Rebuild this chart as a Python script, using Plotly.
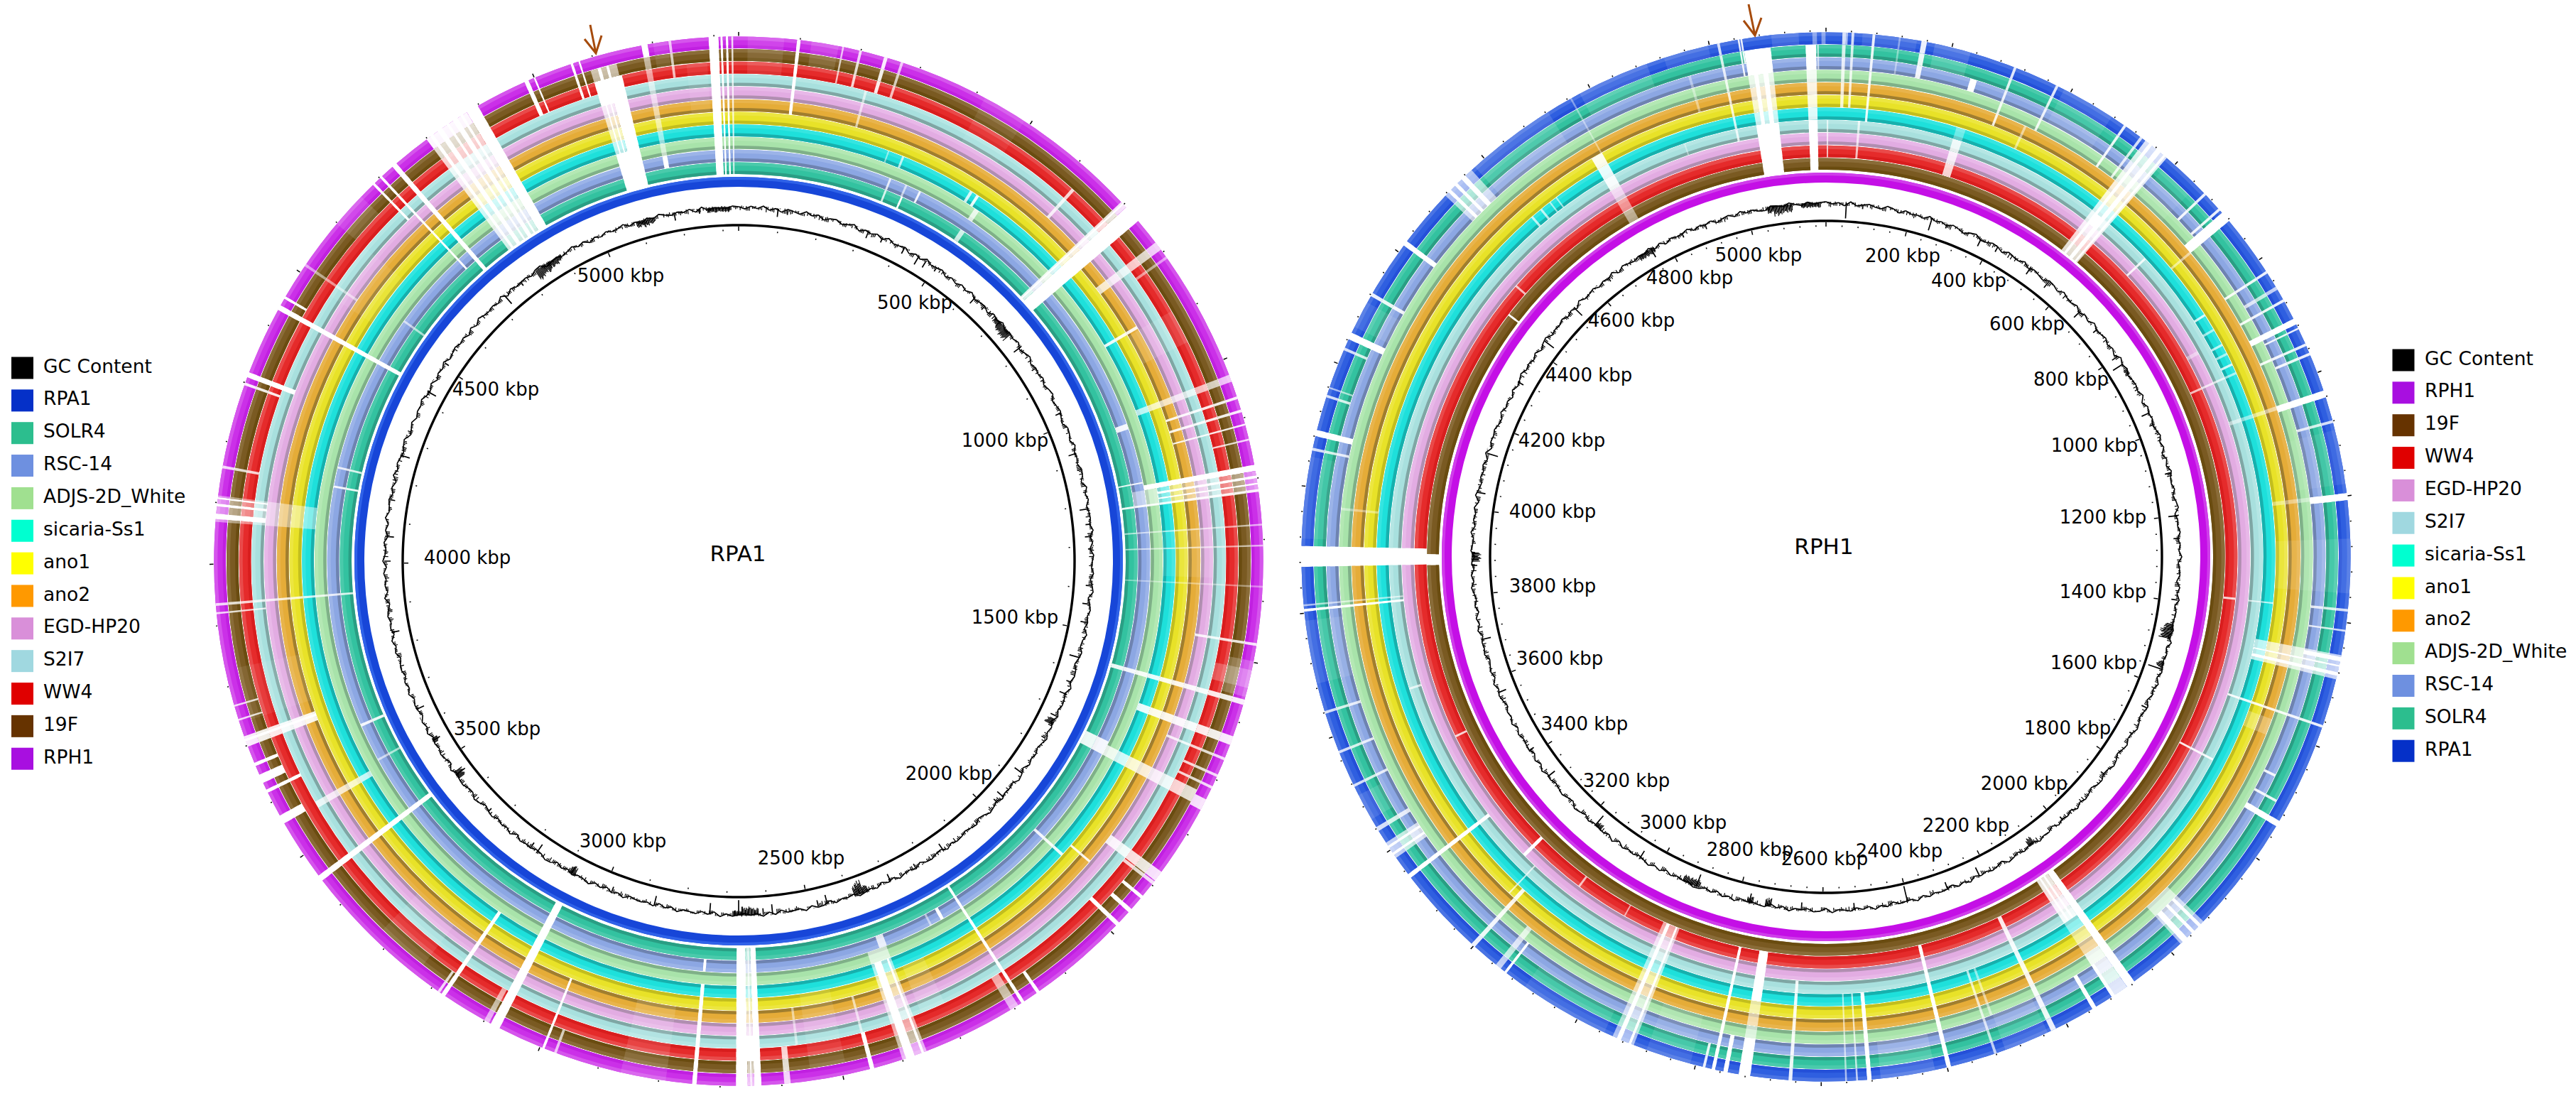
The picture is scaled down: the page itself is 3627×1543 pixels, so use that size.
import numpy as np
import plotly.graph_objects as go

W, H = 3627, 1543

# ---------------- genomes -----------------
LEFT_LENGTH_KBP = 5340
RIGHT_LENGTH_KBP = 5185
LEFT_LABEL_KBP = [500, 1000, 1500, 2000, 2500, 3000, 3500, 4000, 4500, 5000]
RIGHT_LABEL_KBP = [200, 400, 600, 800, 1000, 1200, 1400, 1600, 1800, 2000, 2200, 2400, 2600,
                   2800, 3000, 3200, 3400, 3600, 3800, 4000, 4200, 4400, 4600, 4800, 5000]
LEFT_LEGEND = ["GC Content", "RPA1", "SOLR4", "RSC-14", "ADJS-2D_White", "sicaria-Ss1", "ano1", "ano2",
               "EGD-HP20", "S2I7", "WW4", "19F", "RPH1"]
RIGHT_LEGEND = ["GC Content", "RPH1", "19F", "WW4", "EGD-HP20", "S2I7", "sicaria-Ss1", "ano1", "ano2",
                "ADJS-2D_White", "RSC-14", "SOLR4", "RPA1"]
LEFT_RINGS = ["SOLR4", "RSC-14", "ADJS-2D_White", "sicaria-Ss1", "ano1", "ano2", "EGD-HP20", "S2I7", "WW4", "19F", "RPH1"]
RIGHT_RINGS = ["19F", "WW4", "EGD-HP20", "S2I7", "sicaria-Ss1", "ano1", "ano2", "ADJS-2D_White", "RSC-14", "SOLR4", "RPA1"]

# gaps in BLAST rings: start deg, end deg, first ring, last ring, whiteness (1 = no hit at all)
LEFT_GAPS = [
    (356.7, 357.8, 0, 10, 1), (358.0, 358.25, 0, 10, 1), (358.6, 358.85, 0, 10, 1), (359.2, 359.4, 0, 10, .8),
    (343.2, 346.5, 0, 2, 1), (343.2, 346.5, 7, 8, 1), (344.8, 346.5, 3, 6, 1), (343.2, 344.8, 3, 6, .7),
    (343.7, 343.9, 3, 6, 1), (344.3, 344.5, 3, 6, 1), (343.2, 346.2, 9, 9, .6), (344, 344.4, 9, 9, 1), (345, 345.3, 9, 9, 1),
    (341.3, 341.6, 8, 10, 1), (342.2, 342.4, 8, 10, 1),
    (349.3, 350, 10, 10, 1), (349.3, 350, 1, 1, 1), (349.3, 350, 2, 9, .55), (352.3, 352.6, 8, 10, .7),
    (328.8, 330.2, 0, 10, 1), (323.5, 328.8, 0, 9, .78), (323.5, 328.8, 10, 10, .96),
    (324, 324.4, 0, 10, 1), (325, 325.6, 0, 10, 1), (326.2, 326.5, 0, 10, 1), (327, 327.6, 0, 10, 1), (328, 328.3, 0, 10, 1),
    (335.9, 336.4, 8, 10, 1), (337, 337.2, 8, 10, 1),
    (318.7, 319.3, 0, 10, 1), (316.9, 317.2, 1, 10, 1), (315.8, 316.1, 7, 10, 1), (304.2, 304.5, 6, 10, .5),
    (298.6, 299.2, 0, 10, 1), (300, 300.3, 9, 10, 1), (290.5, 291.1, 7, 10, 1), (289.6, 289.9, 8, 10, .9),
    (280.2, 280.5, 8, 10, .8), (283, 283.3, 0, 1, .8), (280.3, 280.6, 0, 1, .9), (305.5, 305.8, 0, 1, .6),
    (274.3, 277.2, 3, 10, .45), (274.6, 275.2, 7, 10, 1), (276, 276.3, 7, 10, 1), (276.8, 277, 7, 10, 1),
    (265.1, 265.4, 0, 10, .8), (264.2, 264.4, 7, 10, .8),
    (253.9, 254.1, 9, 10, .8), (252.3, 252.5, 9, 10, .8),
    (249.3, 250.5, 5, 10, .9), (249.9, 250.2, 5, 10, 1), (247, 247.4, 9, 10, 1), (245, 246, 9, 10, 1), (243.8, 244.2, 8, 10, 1),
    (240, 241, 9, 10, 1), (239.6, 240.4, 3, 7, .75), (246.3, 246.7, 0, 1, .9), (241, 241.3, 0, 1, .6),
    (232.5, 233.2, 0, 10, 1), (214.0, 214.5, 3, 10, 1), (214.7, 215, 9, 10, .8),
    (207.1, 208.2, 0, 10, 1), (208.4, 209, 8, 10, .6), (201.7, 202, 5, 10, 1), (200.3, 200.6, 9, 10, .7),
    (184.6, 185.1, 3, 10, 1), (184.6, 185, 1, 1, 1),
    (179, 180.3, 0, 10, 1), (177.5, 178.3, 0, 10, 1), (178.3, 179, 0, 10, .7), (178.55, 178.7, 0, 10, 1), (177.5, 180.3, 7, 8, 1),
    (174.3, 175, 8, 10, .8), (173, 173.3, 5, 7, .5), (165, 165.5, 8, 10, 1), (165.2, 165.5, 5, 7, .6),
    (159, 161.8, 2, 10, .6), (160.4, 161.4, 3, 10, 1), (159.3, 159.6, 3, 10, 1), (158.9, 160, 1, 1, .8),
    (150.1, 150.6, 1, 1, 1), (152, 152.3, 1, 1, .5), (147, 147.4, 0, 10, 1), (145, 145.4, 9, 10, 1), (147.8, 148.8, 8, 10, .6),
    (132, 132.4, 1, 3, .9), (130.4, 130.7, 4, 5, .9), (131.5, 132, 9, 10, 1), (129.6, 130, 9, 10, 1), (133.5, 134, 8, 10, 1),
    (126.3, 127.5, 6, 10, .85), (127.6, 128, 8, 10, .8),
    (116, 118, 0, 1, .9), (116.5, 118, 2, 9, .8), (117, 118.3, 10, 10, .85),
    (109.5, 110.5, 3, 10, .9), (112, 112.3, 6, 10, .8), (114, 114.3, 8, 10, .8), (115.4, 115.7, 8, 10, .8),
    (105.3, 105.9, 0, 10, .9), (99, 99.3, 6, 10, .85), (102, 104, 8, 10, .25),
    (92.7, 92.9, 0, 10, .4), (88.2, 88.4, 0, 10, .6), (85.9, 86.1, 0, 10, .6),
    (79.4, 80.1, 2, 10, 1), (80.1, 82.3, 1, 10, .45), (80.6, 80.9, 3, 10, 1), (81.4, 81.6, 3, 10, 1), (82.1, 82.4, 0, 10, .9), (78.9, 79.1, 0, 1, .9),
    (70.5, 71.3, 1, 1, .9), (69.2, 70, 3, 10, .7), (71.7, 72, 5, 10, .9), (73.2, 73.5, 5, 10, .9), (74.8, 75, 5, 10, .9), (76.5, 76.7, 8, 10, .8),
    (59.4, 59.8, 3, 5, .9), (52.6, 53.6, 5, 10, .75), (54.5, 54.8, 8, 10, .5),
    (47.6, 49.6, 0, 10, 1), (46.8, 47.6, 0, 10, .85), (47.0, 47.2, 0, 10, 1),
    (41.8, 42.2, 6, 8, .8), (33.8, 34.5, 0, 0, .75), (33.8, 34.5, 2, 2, .75), (33, 33.4, 3, 3, .9), (32, 32.4, 3, 3, .8),
    (24.0, 24.3, 0, 0, 1), (26, 26.3, 1, 1, .9), (23.9, 24.2, 1, 1, .6),
    (6.4, 6.8, 5, 10, 1), (11.4, 11.6, 8, 10, .7), (13.3, 13.6, 8, 10, .8), (16.1, 16.5, 8, 10, .9), (18, 18.3, 8, 10, .7),
    (15, 15.3, 5, 7, .6), (20, 20.2, 3, 3, .5), (22, 22.3, 3, 3, .7), (21.5, 21.8, 0, 1, .8),
    # lighter low-identity blocks
    (1, 5, 8, 10, .1), (8, 11, 9, 10, .12), (28, 33, 7, 10, .08), (60, 64, 5, 8, .12), (86, 92, 3, 6, .1), (101, 105, 9, 10, .22),
    (155, 158, 4, 7, .14), (168, 172, 4, 9, .1), (188, 193, 5, 10, .12), (218, 224, 6, 9, .1), (252, 258, 5, 9, .08), (303, 310, 4, 7, .08), (310, 314, 9, 10, .12),
    (350.6, 352.2, 9, 10, .1), (354, 356.4, 5, 8, .08),
]
RIGHT_GAPS = [
    (350.8, 353.8, 0, 3, 1), (350.8, 353.8, 8, 9, 1), (350.8, 353.8, 4, 7, .75), (351.5, 352, 4, 7, 1), (352.6, 353.2, 4, 7, 1),
    (350.3, 350.5, 8, 10, .9), (350.6, 350.8, 9, 10, .9),
    (357.7, 358.9, 0, 3, 1), (357.7, 358.9, 8, 9, 1), (357.7, 358.9, 4, 7, .85), (359.0, 359.2, 8, 9, .6),
    (358.5, 359, 10, 10, .4), (359.5, 359.95, 10, 10, .4),
    (0.1, 0.3, 1, 3, .7), (1.8, 2.2, 5, 10, .8), (2.8, 3.1, 5, 10, .8), (2.2, 2.4, 10, 10, .6), (4.2, 4.5, 1, 3, .7), (5.1, 5.4, 4, 10, .9),
    (10.5, 11.1, 8, 10, .9), (8, 8.2, 8, 10, .4), (16.9, 18.1, 1, 3, .8), (16.9, 18.1, 4, 4, .35), (16.8, 17.6, 8, 8, 1),
    (21, 21.3, 6, 10, .85), (26, 26.3, 7, 10, .85), (24.7, 25, 5, 6, .5), (34.6, 34.9, 7, 10, .9), (36.8, 37.1, 7, 10, .8),
    (37.5, 40.5, 0, 10, .8), (38, 38.4, 0, 10, 1), (39, 39.6, 0, 10, 1), (40, 40.3, 0, 10, 1), (38.2, 39, 3, 3, 1),
    (46.1, 46.4, 8, 10, .9), (46.8, 47.1, 2, 3, .85), (48.4, 48.7, 8, 10, .9), (49, 50.2, 7, 10, 1),
    (57, 57.3, 7, 10, .9), (59, 59.4, 8, 10, .7), (60.6, 60.9, 7, 10, .9), (63, 63.7, 7, 10, 1), (64.1, 64.3, 8, 10, .9), (66, 66.3, 7, 10, .9), (67.1, 67.4, 8, 10, .9),
    (57.3, 57.6, 4, 4, .8), (59.5, 59.8, 4, 4, .6), (61.7, 62, 4, 4, .7), (63, 63.3, 4, 4, .6), (64.5, 64.8, 4, 4, .8), (65.7, 66, 4, 4, .6),
    (61, 61.5, 2, 2, .4), (65.7, 66, 1, 3, .7), (50, 50.3, 5, 6, .5),
    (71.5, 72.3, 7, 10, 1), (71.5, 72, 3, 6, .5), (74.9, 75.2, 8, 10, .8), (83, 83.8, 8, 10, 1), (83, 83.5, 5, 7, .4),
    (95.7, 96, 1, 1, .8), (95.8, 96, 3, 4, .7), (95.7, 96, 8, 10, .8), (98, 98.2, 8, 10, .8),
    (100.8, 103.5, 4, 10, .7), (101, 101.5, 8, 10, 1), (102.7, 103.1, 4, 10, 1), (101.9, 102.1, 4, 10, 1),
    (108.7, 109, 3, 10, .9), (117.5, 117.8, 1, 3, .9), (115.8, 116.1, 8, 8, .9), (118.3, 118.6, 8, 9, .9), (120.2, 120.9, 8, 10, 1), (110, 112, 5, 6, .25),
    (134, 137.5, 7, 10, .6), (134.4, 134.8, 8, 10, 1), (135.4, 135.8, 8, 10, 1), (136.5, 137.2, 8, 10, 1),
    (144, 145, 0, 10, 1), (145, 147, 0, 3, .85), (145, 147, 4, 6, .5), (145, 147, 7, 10, .85), (145.5, 145.8, 0, 3, 1), (146.2, 146.5, 0, 3, 1), (146.6, 147, 8, 10, 1),
    (149, 149.5, 8, 10, 1), (154, 154.6, 1, 10, .9), (161, 161.3, 4, 10, .7), (160, 160.3, 4, 7, .5), (166.2, 166.7, 1, 10, 1),
    (175, 175.5, 4, 10, 1), (176.5, 176.7, 4, 10, .7), (177.7, 177.9, 4, 10, .6), (183.7, 184.1, 3, 10, .9),
    (188.3, 189.6, 1, 4, 1), (188.3, 189.6, 8, 10, 1), (188.3, 189.6, 5, 7, .6),
    (192.2, 192.6, 1, 10, 1), (190.8, 191.3, 8, 10, 1), (193.3, 193.6, 9, 10, .9),
    (201.5, 204, 1, 10, .6), (201.8, 202.1, 1, 10, 1), (203, 203.5, 1, 10, 1),
    (209.2, 209.4, 1, 1, .6), (216.7, 217, 1, 1, .7), (217.5, 217.8, 8, 10, 1), (218.3, 219, 7, 10, .7), (225.1, 225.6, 1, 2, 1), (222, 222.5, 5, 10, .9), (223.2, 223.4, 3, 5, .7),
    (232.3, 232.8, 3, 10, 1), (235, 237, 8, 10, .7), (235.4, 235.7, 8, 10, 1), (236.3, 236.6, 8, 10, 1),
    (238.5, 239, 8, 10, .8), (244, 244.3, 8, 10, .8), (244, 244.3, 1, 1, .8), (248, 248.3, 8, 10, .8), (252.6, 252.9, 8, 10, .8), (252.3, 252.6, 3, 3, .7),
    (264, 264.3, 3, 10, 1), (264.6, 264.8, 3, 10, .6), (268.9, 271.2, 1, 10, 1), (268.8, 270.4, 0, 0, 1),
    (275.5, 275.8, 5, 7, .4), (281.7, 282, 8, 10, .8), (283.3, 284, 8, 10, 1), (287.7, 288, 9, 10, .8), (288.7, 288.9, 9, 10, .6),
    (293.2, 293.5, 9, 10, .8), (294.5, 295.3, 8, 10, 1), (299.8, 300.2, 8, 10, .9), (306.4, 307, 8, 10, 1), (307.2, 307.5, 0, 0, 1), (311, 311.3, 1, 1, .7),
    (313.5, 317.5, 8, 10, .6), (314, 314.4, 8, 10, 1), (315, 315.4, 8, 10, 1), (316, 316.6, 8, 10, 1),
    (319, 319.3, 4, 4, .7), (320.5, 320.8, 4, 4, .7), (322, 322.2, 4, 4, .6), (323, 323.2, 4, 4, .6),
    (329.5, 331, 0, 2, .5), (329.5, 331, 3, 5, .9), (330.8, 331, 6, 10, .4), (348, 348.3, 3, 10, .8), (344, 344.3, 6, 8, .4), (341, 341.2, 3, 3, .4),
    # lighter low-identity blocks
    (354, 357, 10, 10, .12), (4, 10, 10, 10, .1), (12, 16, 9, 10, .14), (27, 33, 8, 10, .1), (41, 45, 7, 9, .08), (76, 82, 7, 10, .08), (88, 94, 5, 10, .1),
    (155, 160, 8, 10, .12), (168, 174, 8, 10, .14), (195, 200, 7, 10, .1), (205, 215, 9, 10, .1), (240, 243, 9, 10, .12), (256, 263, 8, 10, .1), (272, 281, 9, 10, .08),
    (296, 299, 8, 10, .1), (318, 328, 8, 10, .14), (332, 340, 9, 10, .12), (342, 347, 10, 10, .1),
]

# GC content track, one value per degree: offset from the mean line
LEFT_GC = [
 1,-2,2,-1,3,-2,1,-3,2,0,-2,3,-1,2,-3,1,2,-2,0,3,-3,1,-1,2,-2,3,-1,0,2,-3,
 1,-2,3,-1,0,2,-3,1,-2,2,-1,3,-2,0,1,-3,2,-1,3,-2,1,-1,2,-3,0,3,-2,1,-1,2,
 -2,1,3,-2,0,2,-1,-3,2,1,-2,3,-1,0,-2,2,1,-3,3,-1,2,-2,0,1,-1,3,-2,1,-3,2,
 0,-1,2,-2,1,3,-3,0,2,-1,1,-2,3,-1,-2,2,0,-3,1,2,-1,3,-2,0,1,-2,2,-3,1,-1,
 3,0,-2,1,-1,2,-3,1,3,-2,0,-1,2,-2,1,3,-1,-3,2,0,-2,1,2,-1,3,-2,-1,2,1,-3,
 2,-1,0,3,-2,1,-3,2,-1,1,3,-2,0,-1,2,-3,1,2,-2,3,-1,0,1,-3,2,-2,3,-1,1,-2,
 0,2,-1,3,-3,1,-2,2,0,-1,3,-2,1,-3,2,-1,1,0,-2,3,-1,2,-3,1,-2,3,0,-1,2,-2,
 1,-3,2,3,-1,-2,1,0,2,-3,3,-1,1,-2,2,0,-3,1,3,-2,-1,2,1,-2,3,-3,0,2,-1,1,
 -2,3,-1,2,-3,0,1,-2,3,-1,2,-2,1,0,-3,2,-1,3,-2,1,-1,2,0,-3,3,-2,1,-1,2,-2,
 3,0,-1,2,-3,1,-2,3,-1,0,2,-2,1,-3,3,-1,2,0,-2,1,3,-3,-1,2,-2,1,0,3,-1,-2,
 2,-3,1,-1,3,-2,0,2,-1,1,-3,2,-2,3,0,-1,1,-2,3,-3,2,-1,0,1,-2,2,3,-3,-1,1,
 -2,0,3,-1,2,-3,1,-2,2,-1,0,3,-2,1,-3,2,-1,3,0,-2,1,-1,2,-3,3,-2,1,0,-1,2]
RIGHT_GC = [
 2,-1,1,-3,3,-2,0,2,-1,-2,3,1,-3,2,-1,0,-2,3,-1,1,-2,2,0,-3,1,3,-2,-1,2,1,
 -3,2,0,-1,3,-2,1,-1,-3,2,1,-2,3,0,-1,2,-3,1,-2,3,-1,0,2,-2,1,-3,3,-1,2,-2,
 0,1,-1,3,-3,2,-1,1,-2,0,3,-1,2,-3,1,-2,3,0,-1,2,-2,1,3,-3,0,-1,2,-2,1,-1,
 3,-2,0,1,-3,2,-1,3,-2,1,0,-1,2,-3,3,-2,1,-1,0,2,-2,3,-1,1,-3,2,0,-2,1,3,
 -1,-2,2,0,-3,1,3,-1,-2,2,1,-3,0,2,-1,3,-2,1,-1,2,-3,1,0,3,-2,-1,2,-2,1,3,
 -3,0,2,-1,1,-2,3,-1,2,-3,0,1,-1,2,-2,3,-1,0,1,-3,2,-1,3,-2,1,-2,2,0,-1,3,
 -3,1,2,-2,0,-1,3,-2,1,-3,2,1,-1,0,-2,3,-1,2,-3,1,-2,2,3,-1,0,-2,1,-3,2,-1,
 3,0,-2,1,-1,2,-3,3,-2,1,0,-1,2,-2,1,3,-3,-1,2,0,-2,1,-1,3,-2,2,-3,1,0,-1,
 2,-2,3,-1,1,-3,0,2,-1,3,-2,1,-1,-3,2,0,1,-2,3,-1,2,-3,1,-2,0,3,-1,2,-2,1,
 -3,2,0,-1,3,-2,1,-1,2,-3,3,0,-2,1,-1,2,-2,3,-3,1,0,2,-1,-2,3,-1,1,-3,2,-2,
 0,3,-1,1,-2,2,-3,1,3,-2,0,-1,2,-2,1,-3,3,-1,0,2,-2,1,-1,3,-3,2,0,-2,1,-1,
 3,-2,2,-3,1,-1,0,3,-2,1,-1,2,-3,0,2,-2,3,-1,1,-2,-3,2,1,-1,3,0,-2,2,-1,1]
# narrow GC spikes: degree, offset (negative = towards the centre)
LEFT_GC_SPIKES = [(6.4,-9),(8,-5),(21.5,-8),(24,-6),(27.9,-7),(30.6,-11),(32,-9),(34,-5),(41.9,-9),(44,-5),(52.8,-10),(57,-5),(65.3,-6),(72.3,-9),(75,-4),(81.5,-11),
    (84,-6),(86,-8),(88,-5),(94,-7),(97,-9),(100,-8),(105.8,-12),(110,-6),(112.1,-9),(116,-8),(120,-5),(126.8,-11),(131.7,-9),(133,-6),(144.7,-9),(150,-5),(154.6,-9),(160,-6),(165.5,-11),
    (167,-7),(174.5,-11),(176,-7),(180,-18),(184.7,-13),(193.8,-11),(201,-6),(208.1,-8),(214.7,-11),(216,-7),(225,-5),(232.9,-13),(239.6,-9),(245.3,-9),(258.4,-9),(262,-5),(270,-7),(274,-10),
    (280,-6),(287.4,-11),(298.6,-11),(304,-5),(318.6,-13),(322,-5),(349.5,-9),(353.6,-5),(355,-5)]
RIGHT_GC_SPIKES = [(3.3,-18),(6,-5),(17.4,-14),(20,-5),(26,-10),(29,-6),(35.3,-9),(39,-9),(46,-11),(50,-6),(55.5,-8),(57,-14),(66,-10),(68,-6),(76.3,-6),(83.3,-11),(87,-7),
    (97,-7),(108.5,-17),(115.2,-6),(120,-4),(128,-6),(138,-5),(154.3,-11),(159.9,-9),(166.7,-19),(175.4,-8),(184,-9),(192.5,-11),(201.5,-15),(211.7,-10),(220.7,-15),
    (231.7,-10),(236.9,-6),(247.5,-9),(256.5,-11),(268.6,-6),(280.5,-9),(287,-13),(299.6,-7),(307.5,-13),(314.7,-13),(322,-5),(330.4,-11),(336,-5),(340,-6)]
# dense GC blocks: start deg, end deg, offset
LEFT_GC_BLOCKS = [(355,358.6,-6),(343.2,344.4,-8),(344.4,345.2,-10),(345.2,346.2,-7),(325,326.2,-15),(326.2,327.6,-12),(327.6,329,-9),(329,329.8,-6),
    (46.6,47.6,-7),(47.6,48.8,-11),(48.8,50.2,-13),(232.2,233.4,-12),(207.6,208.6,-11),(239.2,240,-8),
    (158.6,159.4,-9),(159.4,160.4,-18),(160.4,161,-14),(176.8,178,-9),(178,179.6,-11),(179.6,181,-6),(116.6,117.6,-12)]
RIGHT_GC_BLOCKS = [(350.5,351.5,-8),(351.5,352.8,-13),(352.8,354.5,-10),(356,357,-6),(357,359.2,-6),(328,331,-7),(58,59,-5),(101,102,-12),(102,103.5,-16),(107.4,108.2,-9),
    (144,145,-11),(201,204,-9),(189,190,-11),(269.3,270.7,-12),(192,193,-8),(219.6,220.6,-7)]

# tick-label centres relative to the ring centre
LEFT_LABEL_OFFSET = [(248,-362),(375,-168),(389,81),(296,301),(88,420),(-163,396),(-340,238),(-382,-3),(-342,-240),(-166,-400)]
RIGHT_LABEL_OFFSET = [(108,-422),(201,-387),(283,-326),(345,-248),(378,-155),(390,-54),(390,51),(377,151),(340,243),(279,321),(197,380),(103,416),
                      (-2,427),(-107,414),(-201,376),(-281,317),(-340,237),(-375,145),(-385,43),(-385,-62),(-372,-162),(-334,-254),(-274,-331),(-192,-391),(-95,-423)]

# ---------------- styling -----------------
LEGEND_COLOR = {"GC Content": "#000000", "RPA1": "#0530C8", "SOLR4": "#2CBE8E", "RSC-14": "#6E90E0", "ADJS-2D_White": "#A0E090",
                "sicaria-Ss1": "#00FFD0", "ano1": "#FFFF00", "ano2": "#FF9900", "EGD-HP20": "#D98FD9", "S2I7": "#A0D8E0",
                "WW4": "#E00000", "19F": "#663300", "RPH1": "#A80FE0"}
RING_COLOR = {  # outer strip, body, inner strip
    "19F": ("#8A6C38", "#7A5A22", "#6A4C10"), "WW4": ("#E94A4A", "#E52B2B", "#D81E1E"), "S2I7": ("#B5E6E4", "#A8E0DE", "#7FA6A4"),
    "EGD-HP20": ("#E8B8E8", "#E2ACE2", "#B08EB0"), "ano2": ("#E8B44C", "#E5AC38", "#A07E2E"), "ano1": ("#ECE640", "#E8E228", "#C2BE1E"),
    "sicaria-Ss1": ("#35E5E0", "#1EE0DB", "#17B0AD"), "ADJS-2D_White": ("#B4E8B4", "#A8E3AA", "#7FB088"), "RSC-14": ("#9CB4E8", "#8CA7E3", "#6E83B0"),
    "SOLR4": ("#4ACAAB", "#33C2A0", "#2A9E84"), "RPH1": ("#D555EC", "#CB30E8", "#C020E0"), "RPA1": ("#4A74E4", "#2F5FE0", "#2450D8"),
}
BACKBONE = {"RPA1": ("#2F62E8", "#1746D8"), "RPH1": ("#CF3EEA", "#C40FE6")}
FONT = "DejaVu Sans"
LABEL_SIZE = 26
LEGEND_SIZE = 26.5
R_MAX = 750
R_FIRST, R_PITCH, R_WIDTH = 545.0, 17.7, 16.6
R_BB = (527, 541)
R_GC, R_CIRCLE = 498, 473
LEFT_CENTER, RIGHT_CENTER = (1040, 790), (2571, 784)

fig = go.Figure()


def ring_segments(i, gaps):
    cuts = sorted((a, b) for a, b, lo, hi, w in gaps if lo <= i <= hi and w == 1)
    merged = []
    for a, b in cuts:
        if merged and a <= merged[-1][1]:
            merged[-1][1] = max(merged[-1][1], b)
        else:
            merged.append([a, b])
    segs = [(merged[k][1], merged[k + 1][0]) for k in range(len(merged) - 1)]
    segs.append((merged[-1][1], merged[0][0] + 360))
    return segs


def add_bars(subplot, a, b, r0, r1, color):
    a, b = np.array(a, float), np.array(b, float)
    fig.add_trace(go.Barpolar(theta=(a + b) / 2, width=b - a, base=r0, r=np.full(len(a), r1 - r0),
                              marker=dict(color=color, line=dict(width=0)), subplot=subplot,
                              showlegend=False, hoverinfo="skip"))


def draw_genome(subplot, rings, gaps, ref, length, major, minor, labels, offsets, gc, spikes, blocks):
    # BLAST rings
    for i, name in enumerate(rings):
        lite, body, dark = RING_COLOR[name]
        r0 = R_FIRST + i * R_PITCH
        r1 = r0 + R_WIDTH
        segs = ring_segments(i, gaps)
        a, b = zip(*segs)
        add_bars(subplot, a, b, r0, r1, body)
        add_bars(subplot, a, b, r1 - 0.3 * R_WIDTH, r1, lite)
        add_bars(subplot, a, b, r0, r0 + 0.27 * R_WIDTH, dark)
        faint = [g for g in gaps if g[2] <= i <= g[3] and g[4] < 1]
        if faint:
            add_bars(subplot, [g[0] for g in faint], [g[1] for g in faint], r0 - 0.3, r1 + 0.3,
                     [f"rgba(255,255,255,{g[4]})" for g in faint])
    # backbone
    lite, body = BACKBONE[ref]
    add_bars(subplot, [0, 180], [181, 361], R_BB[0], R_BB[1], body)
    add_bars(subplot, [0, 180], [181, 361], R_BB[1] - 4, R_BB[1], lite)
    # GC content: jagged line, radial strokes per sample, plus spikes and dense combs
    n = len(gc)
    t = np.arange(n) * 360 / n
    vals = np.array(gc, float)
    r = R_GC + vals
    fig.add_trace(go.Scatterpolar(theta=np.append(t, 360), r=np.append(r, r[0]), mode="lines",
                                  line=dict(color="#000000", width=1.6), subplot=subplot, showlegend=False, hoverinfo="skip"))
    st, sb, sr = [], [], []
    for k in range(n):
        for f, other in ((0.25, (k + 7) % n), (0.5, (k + 41) % n), (0.75, (k + 83) % n)):
            lo = min(vals[k], vals[other]) - 0.8 * abs(vals[(k + 3) % n])
            hi = max(vals[k], vals[other]) * 0.5
            st.append(k + f)
            sb.append(R_GC + lo)
            sr.append(hi - lo + 1)
    fig.add_trace(go.Barpolar(theta=st, width=np.full(len(st), 0.14), base=sb, r=sr,
                              marker=dict(color="#000000", line=dict(width=0)), subplot=subplot, showlegend=False, hoverinfo="skip"))
    sx = [s[0] for s in spikes]
    sv = np.array([s[1] for s in spikes], float) * 1.15
    fig.add_trace(go.Barpolar(theta=sx, width=np.full(len(sx), 0.2), base=R_GC + sv, r=-sv + 1,
                              marker=dict(color="#000000", line=dict(width=0)), subplot=subplot, showlegend=False, hoverinfo="skip"))
    ct, cb, cr = [], [], []
    for start, end, v in blocks:
        j = 0
        for th in np.arange(start, end, 0.15):
            d = v * (0.65 + 0.13 * abs(gc[(int(start) * 3 + j) % n]))
            ct.append(th)
            cb.append(R_GC + d)
            cr.append(-d + 1)
            j += 1
    fig.add_trace(go.Barpolar(theta=ct, width=np.full(len(ct), 0.13), base=cb, r=cr,
                              marker=dict(color="#000000", line=dict(width=0)), subplot=subplot, showlegend=False, hoverinfo="skip"))
    # inner circle and ticks
    ang = np.arange(0, 361, 1.0)
    fig.add_trace(go.Scatterpolar(theta=ang, r=np.full(len(ang), R_CIRCLE), mode="lines", line=dict(color="black", width=3.4),
                                  subplot=subplot, showlegend=False, hoverinfo="skip"))
    tx, ty = [], []
    count = int(length // minor)
    for k in range(count + 1):
        kbp = k * minor
        if kbp >= length:
            break
        th = kbp * 360 / length
        is_major = kbp % major == 0
        for ra, rb in ((739.5, 745 if is_major else 741.5), (465, 471 if is_major else 467)):
            tx += [th, th, None]
            ty += [ra, rb, None]
    fig.add_trace(go.Scatterpolar(theta=tx, r=ty, mode="lines", line=dict(color="black", width=1.5), connectgaps=False,
                                  subplot=subplot, showlegend=False, hoverinfo="skip"))
    # tick labels
    off = np.array(offsets, float)
    fig.add_trace(go.Scatterpolar(theta=np.degrees(np.arctan2(off[:, 0], -off[:, 1])) % 360, r=np.hypot(off[:, 0], off[:, 1]),
                                  mode="text", text=[f"{k} kbp" for k in labels], textposition="middle center",
                                  textfont=dict(family=FONT, size=LABEL_SIZE, color="black"),
                                  subplot=subplot, showlegend=False, hoverinfo="skip"))


draw_genome("polar", LEFT_RINGS, LEFT_GAPS, "RPA1", LEFT_LENGTH_KBP, 500, 100, LEFT_LABEL_KBP, LEFT_LABEL_OFFSET,
            LEFT_GC, LEFT_GC_SPIKES, LEFT_GC_BLOCKS)
draw_genome("polar2", RIGHT_RINGS, RIGHT_GAPS, "RPH1", RIGHT_LENGTH_KBP, 200, 40, RIGHT_LABEL_KBP, RIGHT_LABEL_OFFSET,
            RIGHT_GC, RIGHT_GC_SPIKES, RIGHT_GC_BLOCKS)


def draw_legend(names, swatch_x, text_x, y0, dy):
    ys = [y0 + i * dy for i in range(len(names))]
    fig.add_trace(go.Scatter(x=[swatch_x] * len(names), y=ys, mode="markers", hoverinfo="skip", showlegend=False,
                             marker=dict(symbol="square", size=31, color=[LEGEND_COLOR[n] for n in names], line=dict(width=0))))
    fig.add_trace(go.Scatter(x=[text_x] * len(names), y=ys, mode="text", text=names, textposition="middle right", hoverinfo="skip",
                             showlegend=False, textfont=dict(family=FONT, size=LEGEND_SIZE, color="black")))


draw_legend(LEFT_LEGEND, 31.5, 61, 518, 45.85)
draw_legend(RIGHT_LEGEND, 3384, 3414, 507, 45.85)

# genome names in the ring centres
fig.add_trace(go.Scatter(x=[1039, 2568], y=[782, 772], mode="text", text=["RPA1", "RPH1"], textposition="middle center", hoverinfo="skip",
                         showlegend=False, textfont=dict(family=FONT, size=31, color="black")))


def polar_layout(center):
    cx, cy = center
    return dict(domain=dict(x=[(cx - R_MAX) / W, (cx + R_MAX) / W], y=[1 - (cy + R_MAX) / H, 1 - (cy - R_MAX) / H]),
                bgcolor="rgba(0,0,0,0)", barmode="overlay", bargap=0,
                radialaxis=dict(visible=False, range=[0, R_MAX]),
                angularaxis=dict(visible=False, direction="clockwise", rotation=90, thetaunit="degrees"))


ARROWS = ["M 831 35 L 839 75 M 823 55 L 839 75 L 847 50", "M 2462 6 L 2471 50 M 2455 29 L 2471 50 L 2480 25"]
fig.update_layout(
    width=W, height=H, autosize=False, margin=dict(l=0, r=0, t=0, b=0), paper_bgcolor="white", plot_bgcolor="rgba(0,0,0,0)",
    polar=polar_layout(LEFT_CENTER), polar2=polar_layout(RIGHT_CENTER),
    xaxis=dict(visible=False, range=[0, W], domain=[0, 1], fixedrange=True),
    yaxis=dict(visible=False, range=[H, 0], domain=[0, 1], fixedrange=True),
    shapes=[dict(type="path", path=p, xref="x", yref="y", line=dict(color="#A64B0C", width=3)) for p in ARROWS],
    showlegend=False,
)
fig.write_html("out.html", config={"displayModeBar": False},
               post_script="document.body.style.margin='0';document.documentElement.style.overflow='hidden';")
